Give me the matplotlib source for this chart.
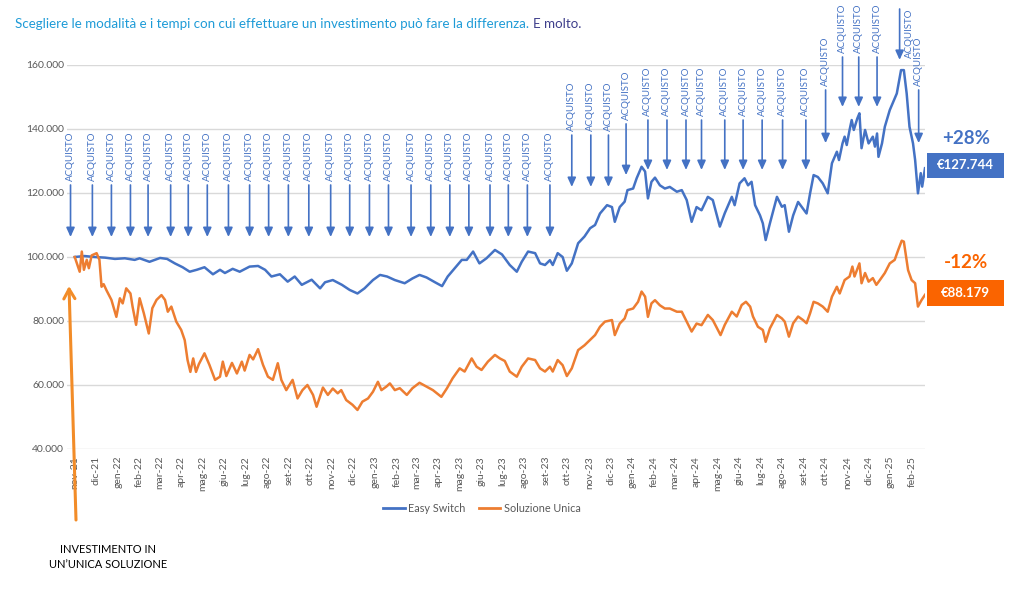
import matplotlib
matplotlib.use("Agg")
import matplotlib.pyplot as plt
from matplotlib.patches import Rectangle, FancyArrowPatch
from matplotlib.lines import Line2D
import pandas as pd

plt.rcParams["font.family"] = ["Lato", "DejaVu Sans"]

BLU = "#4472C4"
ARANCIO = "#ED7D31"
ARANCIO_BOX = "#FA6400"
GRIGIO = "#595959"

# date: giorni dal 1 novembre 2021
inizio = pd.Timestamp("2021-11-01")

giorni_easy = [0, 14, 28, 43, 57, 71, 85, 92, 106, 121, 131, 142, 153, 163, 173, 184, 196, 206, 213, 224,
               234, 248, 260, 270, 279, 291, 302, 312, 322, 336, 348, 355, 366, 379, 390, 401, 411, 423, 433, 443,
               454, 468, 479, 489, 499, 511, 521, 529, 539, 549, 556, 565, 574, 584, 596, 606, 617, 627, 634, 643,
               653, 660, 667, 674, 678, 685, 692, 698, 705, 714, 723, 731, 738, 745, 755, 762, 766, 773, 780, 784,
               792, 797, 804, 809, 813, 818, 823, 830, 837, 844, 854, 861, 868, 875, 882, 889, 898, 905, 915, 922,
               932, 936, 943, 950, 955, 960, 965, 972, 976, 980, 986, 996, 1003, 1007, 1013, 1019, 1026, 1033, 1038, 1043,
               1048, 1054, 1061, 1068, 1074, 1081, 1084, 1089, 1092, 1095, 1099, 1102, 1105, 1110, 1113, 1116, 1121, 1126, 1132, 1135,
               1138, 1140, 1145, 1149, 1156, 1160, 1166, 1172, 1176, 1180, 1184, 1189, 1192, 1196, 1200, 1202, 1206]
valori_easy = [100.0, 100.3, 100.0, 99.8, 99.4, 99.6, 99.1, 99.6, 98.5, 99.7, 99.4, 98.0, 96.8, 95.4, 96.0, 96.8, 94.6, 96.0, 95.0, 96.3,
               95.4, 97.0, 97.2, 96.0, 93.9, 94.6, 92.3, 93.9, 91.3, 92.9, 90.2, 92.1, 92.8, 91.3, 89.7, 88.6, 90.2, 92.8, 94.4, 93.9,
               92.8, 91.8, 93.3, 94.4, 93.6, 92.1, 90.9, 93.9, 96.5, 99.1, 99.1, 101.7, 98.0, 99.6, 102.2, 100.8, 97.5, 95.4, 98.5, 101.7,
               101.2, 98.0, 97.5, 99.0, 97.5, 101.2, 100.0, 95.7, 98.0, 104.3, 106.4, 109.0, 110.0, 113.6, 116.2, 115.6, 111.0, 115.6, 117.3, 120.9,
               121.4, 124.6, 128.2, 126.7, 118.3, 123.5, 124.8, 122.4, 121.4, 121.9, 120.4, 120.9, 117.8, 111.0, 115.6, 114.6, 118.8, 117.8, 109.5, 113.7,
               118.8, 116.2, 123.0, 124.6, 122.4, 123.5, 116.2, 113.0, 110.5, 105.3, 110.5, 118.8, 115.7, 116.2, 107.9, 113.0, 117.2, 115.1, 113.6, 119.9,
               125.6, 125.0, 123.0, 119.9, 129.3, 132.9, 130.3, 135.5, 137.6, 135.0, 139.7, 142.8, 139.7, 143.3, 144.9, 134.0, 139.7, 135.5, 137.6, 134.5,
               138.6, 131.3, 135.5, 140.7, 145.9, 148.0, 151.1, 158.4, 158.4, 151.1, 140.7, 135.5, 130.3, 119.9, 126.2, 122.0, 127.744]

giorni_unica = [0, 7, 10, 13, 17, 20, 24, 31, 35, 38, 41, 45, 52, 59, 64, 68, 73, 79, 82, 87,
                92, 98, 105, 110, 116, 123, 128, 132, 137, 144, 151, 156, 160, 164, 168, 172, 176, 184, 191, 199,
                206, 210, 215, 223, 230, 237, 241, 248, 253, 260, 267, 274, 281, 288, 293, 300, 309, 316, 323, 330,
                338, 343, 352, 359, 366, 373, 378, 385, 394, 401, 408, 416, 423, 430, 435, 442, 447, 454, 461, 471,
                479, 489, 499, 508, 520, 528, 536, 546, 553, 563, 570, 577, 586, 596, 603, 610, 617, 627, 634, 643,
                653, 660, 667, 674, 678, 685, 692, 698, 705, 714, 723, 731, 738, 745, 752, 762, 766, 773, 780, 784,
                792, 799, 804, 809, 813, 818, 823, 830, 837, 844, 854, 861, 868, 875, 882, 889, 898, 905, 916, 922,
                932, 939, 946, 952, 958, 962, 969, 976, 980, 986, 996, 1003, 1007, 1013, 1019, 1026, 1033, 1038, 1043, 1048,
                1054, 1061, 1068, 1074, 1081, 1085, 1092, 1099, 1103, 1106, 1113, 1116, 1121, 1126, 1132, 1137, 1142, 1149, 1156, 1163,
                1168, 1173, 1176, 1182, 1187, 1192, 1196, 1201, 1206]
valori_unica = [100.0, 95.4, 101.7, 96.0, 99.1, 96.5, 100.5, 101.2, 99.1, 90.7, 91.5, 89.6, 86.6, 81.3, 87.1, 85.5, 90.2, 88.6, 84.5, 78.8,
                87.1, 82.4, 76.1, 84.0, 86.6, 88.1, 86.6, 82.9, 84.5, 79.8, 77.2, 74.0, 67.8, 64.1, 68.3, 64.1, 66.5, 69.9, 66.3, 61.6,
                62.6, 67.3, 62.8, 66.9, 63.6, 67.3, 64.5, 69.4, 68.0, 71.2, 66.3, 62.6, 61.6, 66.8, 61.6, 58.4, 61.6, 55.8, 58.4, 60.0,
                56.9, 53.2, 59.2, 56.9, 58.9, 57.4, 58.4, 55.3, 53.8, 52.2, 54.8, 55.8, 57.9, 61.0, 58.4, 59.5, 60.5, 58.4, 59.0, 56.9,
                59.0, 60.7, 59.5, 58.4, 56.3, 59.0, 62.1, 65.2, 64.2, 68.3, 65.7, 64.7, 67.3, 69.4, 68.3, 67.5, 64.2, 62.6, 65.7, 68.3,
                67.8, 65.2, 64.2, 65.7, 64.2, 67.8, 66.2, 62.8, 65.2, 70.9, 72.4, 74.1, 75.6, 78.2, 79.8, 80.3, 75.6, 79.2, 80.8, 83.4,
                83.9, 86.0, 89.2, 87.6, 81.3, 85.5, 86.5, 84.9, 83.9, 83.9, 82.9, 82.9, 79.8, 76.7, 79.2, 78.7, 81.9, 80.3, 75.6, 78.8,
                82.9, 81.4, 85.0, 86.0, 84.5, 81.4, 78.2, 77.2, 73.5, 77.7, 81.9, 80.8, 79.8, 75.1, 79.3, 81.4, 80.3, 79.3, 82.4, 86.0,
                85.5, 84.5, 82.9, 87.6, 90.7, 88.6, 92.8, 93.9, 97.0, 93.9, 98.0, 91.8, 95.0, 92.3, 93.4, 91.3, 92.8, 95.0, 98.0, 99.1,
                102.2, 105.1, 104.8, 95.9, 92.8, 91.8, 84.5, 86.5, 88.179]

capitale = 100000

# giorni degli acquisti (frecce "ACQUISTO")
giorni_acquisti = [-6, 25, 52, 79, 104, 136, 161, 188, 218, 248, 275, 303, 332, 363, 390, 418, 445, 477, 505, 532,
                   559, 589, 615, 642, 674, 705, 732, 757, 782, 813, 840, 867, 889, 922, 948, 975, 1004, 1037, 1065, 1089,
                   1112, 1138, 1170, 1197]
livelli_acquisti = (["basso"] * 25 + ["medio1"] * 3 + ["medio2"] + ["medio3"] * 9
                    + ["alto1", "alto2", "alto2", "alto2", "picco", "alto1"])
# punta e coda della freccia (valori sull'asse y)
FRECCE = {"basso": (106250, 122500), "medio1": (121900, 138100), "medio2": (125600, 141600),
          "medio3": (127200, 142800), "alto1": (135600, 152200), "alto2": (146900, 162500),
          "picco": (161600, 177500)}

abbr_mesi = ["gen", "feb", "mar", "apr", "mag", "giu", "lug", "ago", "set", "ott", "nov", "dic"]
date_mesi = pd.date_range("2021-11-01", "2025-02-01", freq="MS")
pos_mesi = [(d - inizio).days for d in date_mesi]
etichette_mesi = ["{}-{}".format(abbr_mesi[d.month - 1], d.strftime("%y")) for d in date_mesi]

W, H = 1024, 594
fig = plt.figure(figsize=(W / 100, H / 100), dpi=100)
ax = fig.add_axes([67 / W, 1 - 449 / H, (925 - 67) / W, (449 - 65) / H])

ax.plot(giorni_easy, [v * 1000 for v in valori_easy], color=BLU, lw=1.8, solid_joinstyle="round", zorder=3)
ax.plot(giorni_unica, [v * 1000 for v in valori_unica], color=ARANCIO, lw=1.8, solid_joinstyle="round", zorder=3)

ax.set_xlim(-11, 1206)
ax.set_ylim(40000, 160000)
ax.set_yticks(range(40000, 160001, 20000))
ax.set_yticklabels(["{:,}".format(v).replace(",", ".") for v in range(40000, 160001, 20000)])
ax.set_xticks(pos_mesi)
ax.set_xticklabels(etichette_mesi, rotation=90, va="top", ha="center")
ax.tick_params(axis="both", length=0, colors=GRIGIO, labelsize=7.5)
ax.tick_params(axis="y", pad=2)
ax.tick_params(axis="x", pad=5)
ax.grid(axis="y", color="#d9d9d9", lw=1)
ax.set_axisbelow(True)
for s in ax.spines.values():
    s.set_visible(False)

# frecce ACQUISTO
for g, liv in zip(giorni_acquisti, livelli_acquisti):
    punta, coda = FRECCE[liv]
    ax.annotate("", xy=(g, punta), xytext=(g, coda),
                arrowprops=dict(arrowstyle="-|>,head_length=0.55,head_width=0.25", color=BLU, lw=1.2,
                                shrinkA=0, shrinkB=0, mutation_scale=10),
                annotation_clip=False, zorder=4)
    if liv == "picco":
        ax.annotate("ACQUISTO", xy=(g, coda), xytext=(4, 0), textcoords="offset points",
                    rotation=90, ha="left", va="top", fontsize=7, color=BLU, annotation_clip=False)
    else:
        ax.annotate("ACQUISTO", xy=(g, coda), xytext=(0, 3), textcoords="offset points",
                    rotation=90, ha="center", va="bottom", fontsize=7, color=BLU, annotation_clip=False)

# freccia investimento in un'unica soluzione
fig.add_artist(FancyArrowPatch(
    (76 / W, 1 - 520 / H), (69 / W, 1 - 286 / H), transform=fig.transFigure,
    arrowstyle="->,head_length=7,head_width=4", color="#F28C28", lw=2.2, mutation_scale=1,
    shrinkA=0, shrinkB=0))
fig.text(108 / W, 1 - 557 / H, "INVESTIMENTO IN\nUN\u2019UNICA SOLUZIONE", ha="center", va="center",
         fontsize=8, color="black", linespacing=1.5)

# riquadri finali
finale_easy = valori_easy[-1] * 1000
finale_unica = valori_unica[-1] * 1000
perc_easy = (finale_easy / capitale - 1) * 100
perc_unica = (finale_unica / capitale - 1) * 100

fig.add_artist(Rectangle((927 / W, 1 - 178 / H), 77 / W, 25 / H, transform=fig.transFigure,
                         facecolor=BLU, edgecolor="none"))
fig.text(965.5 / W, 1 - 165.5 / H, "\u20ac{:,.0f}".format(finale_easy).replace(",", "."),
         ha="center", va="center", fontsize=9.5, fontweight="bold", color="white")
fig.text(966 / W, 1 - 139 / H, "{:+.0f}%".format(perc_easy), ha="center", va="center",
         fontsize=13.5, fontweight="bold", color=BLU)

fig.add_artist(Rectangle((927 / W, 1 - 306 / H), 77 / W, 26 / H, transform=fig.transFigure,
                         facecolor=ARANCIO_BOX, edgecolor="none"))
fig.text(965.5 / W, 1 - 293 / H, "\u20ac{:,.0f}".format(finale_unica).replace(",", "."),
         ha="center", va="center", fontsize=9.5, fontweight="bold", color="white")
fig.text(966 / W, 1 - 263 / H, "{:+.0f}%".format(perc_unica), ha="center", va="center",
         fontsize=13.5, fontweight="bold", color=ARANCIO_BOX)

# legenda
handles = [Line2D([], [], color=BLU, lw=2), Line2D([], [], color=ARANCIO, lw=2)]
fig.legend(handles, ["Easy Switch", "Soluzione Unica"], loc="center", bbox_to_anchor=(482 / W, 1 - 508 / H),
           ncol=2, frameon=False, fontsize=7.8, labelcolor=GRIGIO, handlelength=2.0, handletextpad=0.3,
           columnspacing=1.2)

# titolo a due colori
t1 = fig.text(15 / W, 1 - 24 / H,
              "Scegliere le modalit\u00e0 e i tempi con cui effettuare un investimento pu\u00f2 fare la differenza.",
              ha="left", va="center", fontsize=9.6, color="#1E9BD7")
fig.canvas.draw()
bb = t1.get_window_extent(renderer=fig.canvas.get_renderer())
fig.text(bb.x1 / W + 4 / W, 1 - 24 / H, "E molto.", ha="left", va="center", fontsize=9.6, color="#3E3F8C")

fig.savefig("out.png", dpi=100)
